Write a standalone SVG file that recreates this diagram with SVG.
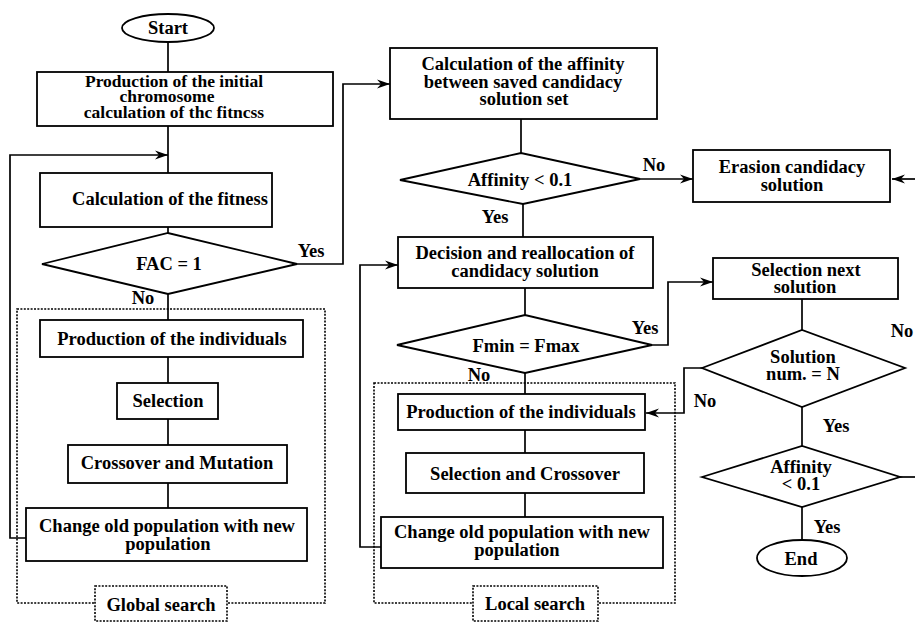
<svg xmlns="http://www.w3.org/2000/svg" width="915" height="623" viewBox="0 0 915 623">
<defs>
<marker id="arr" markerUnits="userSpaceOnUse" markerWidth="14" markerHeight="10" refX="13" refY="5" orient="auto">
<path d="M0,0.5 L13,5 L0,9.5 L4,5 Z" fill="#000"/>
</marker>
<style>
.b{fill:#fff;stroke:#000;stroke-width:1.8}
.d{fill:none;stroke:#000;stroke-width:1.6;stroke-dasharray:2 1.4}
.dl{fill:#fff;stroke:#000;stroke-width:1.6;stroke-dasharray:2 1.4}
.c{fill:none;stroke:#000;stroke-width:1.7}
.a{fill:none;stroke:#000;stroke-width:1.7;marker-end:url(#arr)}
text{font-family:"Liberation Serif","Times New Roman",serif;font-weight:bold;font-size:18.5px;fill:#000;text-anchor:middle}
.m{font-size:17.5px}
</style>
</defs>
<rect width="915" height="623" fill="#fff"/>

<g id="groups">
<rect class="d" x="17" y="309" width="308" height="294"/>
<rect class="d" x="374" y="383" width="301" height="220"/>
</g>

<g id="connectors">
<line class="c" x1="168" y1="42" x2="168" y2="72"/>
<line class="c" x1="168" y1="126" x2="168" y2="173"/>
<polyline class="a" points="26,538 10,538 10,155 168,155"/>
<line class="c" x1="168" y1="227" x2="168" y2="233"/>
<polyline class="a" points="297,264 343,264 343,84 390,84"/>
<line class="c" x1="168" y1="294" x2="168" y2="320"/>
<line class="c" x1="168" y1="357" x2="168" y2="383"/>
<line class="c" x1="168" y1="419" x2="168" y2="445"/>
<line class="c" x1="168" y1="483" x2="168" y2="508"/>
<line class="c" x1="521" y1="119" x2="521" y2="153"/>
<line class="a" x1="640" y1="179" x2="693" y2="179"/>
<line class="a" x1="915" y1="179" x2="892" y2="179"/>
<line class="c" x1="523" y1="204" x2="523" y2="237"/>
<line class="c" x1="525" y1="288" x2="525" y2="315"/>
<polyline class="a" points="381,547 360,547 360,265 398,265"/>
<polyline class="a" points="652,345 668,345 668,282 713,282"/>
<line class="c" x1="525" y1="373" x2="525" y2="394"/>
<line class="c" x1="525" y1="430" x2="525" y2="453"/>
<line class="c" x1="525" y1="493" x2="525" y2="517"/>
<line class="c" x1="802" y1="299" x2="802" y2="330"/>
<polyline class="a" points="702,368 684,368 684,413 646,413"/>
<line class="c" x1="802" y1="407" x2="802" y2="446"/>
<line class="c" x1="900" y1="477" x2="915" y2="477"/>
<line class="c" x1="802" y1="507" x2="802" y2="540"/>
</g>

<g id="start">
<ellipse class="b" cx="168" cy="28" rx="46" ry="14"/>
<text x="168" y="34">Start</text>
</g>

<g id="init">
<rect class="b" x="37" y="72" width="296" height="54"/>
<text class="m" x="174" y="87">Production of the initial</text>
<text class="m" x="167" y="102">chromosome</text>
<text class="m" x="174" y="118">calculation of thc fitncss</text>
</g>

<g id="calcfit">
<rect class="b" x="40" y="173" width="232" height="54"/>
<text x="170" y="205">Calculation of the fitness</text>
</g>

<g id="fac">
<polygon class="b" points="42,264 168,233 297,264 168,294"/>
<text x="169" y="270">FAC = 1</text>
<text x="311" y="257">Yes</text>
<text x="143" y="304">No</text>
</g>

<g id="prodind">
<rect class="b" x="40" y="320" width="263" height="37"/>
<text x="172" y="345">Production of the individuals</text>
</g>

<g id="selection">
<rect class="b" x="117" y="383" width="101" height="36"/>
<text x="168" y="407">Selection</text>
</g>

<g id="crossmut">
<rect class="b" x="68" y="445" width="219" height="38"/>
<text x="177" y="469">Crossover and Mutation</text>
</g>

<g id="changeold">
<rect class="b" x="26" y="508" width="281" height="53"/>
<text x="167" y="532">Change old population with new</text>
<text x="168" y="550">population</text>
</g>

<g id="globallabel">
<rect class="dl" x="95" y="586" width="132" height="35"/>
<text x="161" y="611">Global search</text>
</g>

<g id="calcaff">
<rect class="b" x="390" y="48" width="267" height="71"/>
<text x="523" y="70">Calculation of the affinity</text>
<text x="523" y="88">between saved candidacy</text>
<text x="524" y="105">solution set</text>
</g>

<g id="aff1">
<polygon class="b" points="400,180 521,153 640,179 523,204"/>
<text x="520" y="186">Affinity &lt; 0.1</text>
<text x="654" y="171">No</text>
<text x="495" y="223">Yes</text>
</g>

<g id="erasion">
<rect class="b" x="693" y="150" width="197" height="52"/>
<text x="792" y="173">Erasion candidacy</text>
<text x="792" y="191">solution</text>
</g>

<g id="decision">
<rect class="b" x="398" y="237" width="255" height="51"/>
<text x="525" y="259">Decision and reallocation of</text>
<text x="525" y="277">candidacy solution</text>
</g>

<g id="fmin">
<polygon class="b" points="397,345 525,315 652,345 525,373"/>
<text x="526" y="352">Fmin = Fmax</text>
<text x="645" y="334">Yes</text>
<text x="479" y="381">No</text>
</g>

<g id="prodind2">
<rect class="b" x="398" y="394" width="247" height="36"/>
<text x="521" y="418">Production of the individuals</text>
</g>

<g id="selcross">
<rect class="b" x="406" y="453" width="238" height="40"/>
<text x="525" y="480">Selection and Crossover</text>
</g>

<g id="changeold2">
<rect class="b" x="381" y="517" width="282" height="51"/>
<text x="522" y="538">Change old population with new</text>
<text x="517" y="556">population</text>
</g>

<g id="locallabel">
<rect class="dl" x="473" y="586" width="125" height="35"/>
<text x="535" y="610">Local search</text>
</g>

<g id="selnext">
<rect class="b" x="713" y="258" width="185" height="41"/>
<text x="806" y="276">Selection next</text>
<text x="805" y="293">solution</text>
</g>

<g id="solnum">
<polygon class="b" points="702,368 802,330 905,368 802,407"/>
<text x="803" y="363">Solution</text>
<text x="803" y="380">num. = N</text>
<text x="902" y="337">No</text>
<text x="705" y="407">No</text>
<text x="836" y="432">Yes</text>
</g>

<g id="aff2">
<polygon class="b" points="702,477 802,446 900,477 802,507"/>
<text x="801" y="473">Affinity</text>
<text x="801" y="490">&lt; 0.1</text>
<text x="827" y="533">Yes</text>
</g>

<g id="end">
<ellipse class="b" cx="802" cy="558" rx="45" ry="18"/>
<text x="801" y="565">End</text>
</g>
</svg>
